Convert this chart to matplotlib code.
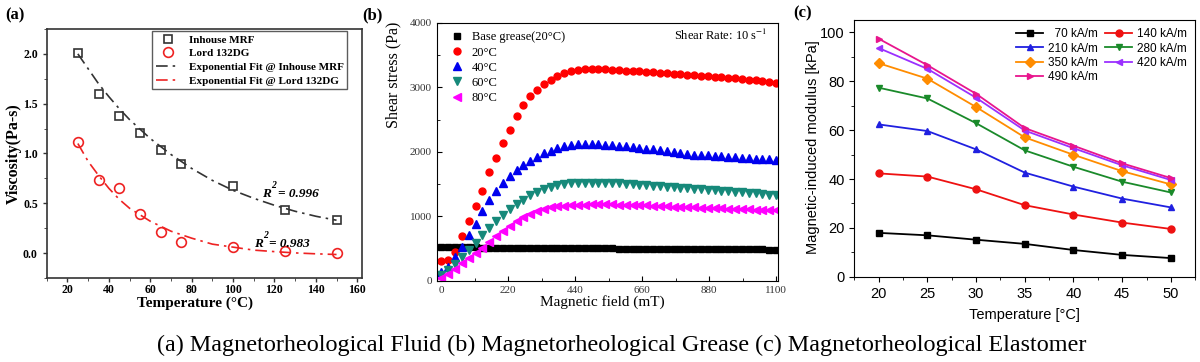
import numpy as np
import matplotlib
matplotlib.use("Agg")
import matplotlib.pyplot as plt
from matplotlib.ticker import MultipleLocator

plt.rcParams['font.family'] = ['Liberation Serif', 'DejaVu Sans']
plt.rcParams['mathtext.fontset'] = 'stix'

# (a) MR fluid viscosity
temp_a = [25, 35, 45, 55, 65, 75, 100, 125, 150]
visc_inhouse = [2.01, 1.60, 1.38, 1.21, 1.03, 0.89, 0.67, 0.43, 0.33]
visc_lord = [1.12, 0.73, 0.65, 0.39, 0.21, 0.11, 0.06, 0.02, 0.005]
temp_fit = [25, 30, 35, 40, 45, 50, 60, 70, 80, 90, 100, 110, 120, 130, 140, 150]
fit_inhouse = [2.00, 1.85, 1.70, 1.57, 1.45, 1.34, 1.15, 0.99, 0.85, 0.73, 0.63,
               0.55, 0.48, 0.42, 0.37, 0.33]
fit_lord = [1.10, 0.92, 0.78, 0.65, 0.54, 0.45, 0.32, 0.22, 0.15, 0.09, 0.06,
            0.03, 0.015, 0.002, -0.007, -0.014]

# (b) MR grease shear stress
field = np.linspace(0, 1100, 50)
base_grease = [522, 522, 521, 520, 519, 518, 517, 517, 516, 515, 514, 514, 513, 512,
               511, 511, 510, 509, 508, 508, 507, 506, 505, 505, 504, 503, 502, 502,
               501, 500, 499, 499, 498, 497, 496, 496, 495, 494, 493, 493, 492, 491,
               490, 490, 489, 488, 487, 487, 486, 485]
stress_20 = [310, 320, 450, 690, 928, 1155, 1400, 1686, 1907, 2134, 2345, 2562, 2720,
             2860, 2965, 3050, 3120, 3180, 3220, 3250, 3268, 3278, 3280, 3280, 3278,
             3272, 3265, 3258, 3252, 3246, 3240, 3234, 3228, 3220, 3212, 3205, 3198,
             3190, 3182, 3174, 3166, 3157, 3148, 3138, 3128, 3118, 3108, 3098, 3085, 3065]
stress_40 = [139, 216, 371, 526, 706, 887, 1082, 1247, 1387, 1515, 1619, 1722, 1799,
             1866, 1928, 1985, 2021, 2062, 2090, 2105, 2115, 2120, 2120, 2118, 2112,
             2105, 2096, 2086, 2075, 2063, 2050, 2037, 2024, 2010, 1996, 1983, 1968,
             1955, 1950, 1945, 1938, 1930, 1922, 1915, 1908, 1902, 1896, 1891, 1886, 1880]
stress_60 = [88, 165, 268, 371, 474, 588, 706, 820, 923, 1015, 1108, 1186, 1258, 1325,
             1376, 1418, 1454, 1480, 1500, 1510, 1516, 1520, 1522, 1522, 1520, 1516,
             1510, 1504, 1497, 1490, 1482, 1474, 1466, 1458, 1450, 1442, 1434, 1426,
             1418, 1410, 1402, 1395, 1388, 1380, 1372, 1364, 1355, 1346, 1336, 1325]
stress_80 = [45, 113, 191, 278, 356, 433, 515, 603, 691, 773, 851, 923, 990, 1041,
             1082, 1115, 1140, 1158, 1168, 1175, 1180, 1183, 1185, 1186, 1186, 1185,
             1183, 1180, 1177, 1173, 1169, 1165, 1160, 1156, 1152, 1148, 1144, 1140,
             1136, 1132, 1128, 1124, 1120, 1116, 1112, 1108, 1104, 1100, 1096, 1092]

# (c) MR elastomer modulus
temp_c = [20, 25, 30, 35, 40, 45, 50]
mod_70 = [18.0, 17.0, 15.2, 13.5, 11.0, 9.0, 7.7]
mod_140 = [42.3, 41.0, 35.8, 29.3, 25.5, 22.2, 19.6]
mod_210 = [62.3, 59.6, 52.1, 42.6, 36.9, 32.0, 28.4]
mod_280 = [77.3, 72.9, 62.8, 51.7, 45.0, 38.9, 34.5]
mod_350 = [87.3, 81.0, 69.4, 57.0, 49.9, 43.2, 37.8]
mod_420 = [93.5, 85.0, 73.2, 59.8, 52.6, 45.6, 39.6]
mod_490 = [97.3, 86.5, 74.8, 60.8, 53.6, 46.4, 40.4]

fig = plt.figure(figsize=(12, 3.62), dpi=100)

# ---------------- (a)
ax = fig.add_axes([0.039, 0.232, 0.263, 0.688])
dash = (0, (7, 3, 1.5, 3))
ax.plot(temp_a, visc_inhouse, ls='none', marker='s', ms=6, mfc='none', mec='#333333',
        mew=1.2, label='Inhouse MRF')
ax.plot(temp_a, visc_lord, ls='none', marker='o', ms=7, mfc='none', mec='#ee2222',
        mew=1.2, label='Lord 132DG')
ax.plot(temp_fit, fit_inhouse, color='#333333', ls=dash, lw=1.2,
        label='Exponential Fit @ Inhouse MRF')
ax.plot(temp_fit, fit_lord, color='#ee2222', ls=dash, lw=1.2,
        label='Exponential Fit @ Lord 132DG')
ax.set_xlim(10, 162.5)
ax.set_ylim(-0.25, 2.25)
ax.xaxis.set_major_locator(MultipleLocator(20))
ax.xaxis.set_minor_locator(MultipleLocator(10))
ax.yaxis.set_major_locator(MultipleLocator(0.5))
ax.yaxis.set_minor_locator(MultipleLocator(0.25))
ax.tick_params(labelsize=8.5, width=1, length=3, color='#333333')
ax.tick_params(which='minor', length=2, color='#333333')
ax.tick_params(axis='x', pad=1.5)
for lab in ax.get_xticklabels() + ax.get_yticklabels():
    lab.set_fontweight('bold')
for s in ax.spines.values():
    s.set_linewidth(1.2)
    s.set_color('#333333')
ax.set_xlabel('Temperature (°C)', fontsize=11, fontweight='bold')
ax.set_ylabel('Viscosity(Pa-s)', fontsize=11.5, fontweight='bold')
ax.xaxis.set_label_coords(0.47, -0.075)
ax.yaxis.set_label_coords(-0.08, 0.5)
r2_style = dict(fontweight='bold', fontstyle='italic')
ax.text(114, 0.56, 'R', fontsize=9.5, **r2_style)
ax.text(118.4, 0.65, '2', fontsize=7, **r2_style)
ax.text(121.5, 0.56, '= 0.996', fontsize=9.5, **r2_style)
ax.text(110, 0.06, 'R', fontsize=9.5, **r2_style)
ax.text(114.4, 0.15, '2', fontsize=7, **r2_style)
ax.text(117.5, 0.06, '= 0.983', fontsize=9.5, **r2_style)
leg = ax.legend(loc='upper right', bbox_to_anchor=(0.952, 0.99),
                prop={'weight': 'bold', 'size': 8}, fancybox=False,
                edgecolor='#333333', borderpad=0.3, labelspacing=0.35,
                handlelength=2.2, borderaxespad=0.0)
leg.get_frame().set_linewidth(1.0)

# ---------------- (b)
ax = fig.add_axes([0.364, 0.224, 0.284, 0.713])
ax.plot(field, base_grease, ls='none', marker='s', ms=4, color='black',
        label='Base grease(20°C)')
ax.plot(field, stress_20, ls='none', marker='o', ms=5, color='#ff0000', label='20°C')
ax.plot(field, stress_40, ls='none', marker='^', ms=5.5, color='#0000ee', label='40°C')
ax.plot(field, stress_60, ls='none', marker='v', ms=5.5, color='#16897a', label='60°C')
ax.plot(field, stress_80, ls='none', marker='<', ms=5.5, color='#ff00ff', label='80°C')
ax.set_xlim(-15, 1105)
ax.set_ylim(0, 4000)
ax.xaxis.set_major_locator(MultipleLocator(220))
ax.xaxis.set_minor_locator(MultipleLocator(110))
ax.yaxis.set_major_locator(MultipleLocator(1000))
ax.yaxis.set_minor_locator(MultipleLocator(500))
ax.tick_params(which='both', direction='in', labelsize=8, labelcolor='#333333')
ax.set_xlabel('Magnetic field (mT)', fontsize=11)
ax.set_ylabel('Shear stress (Pa)', fontsize=11.5)
ax.xaxis.set_label_coords(0.487, -0.055)
ax.yaxis.set_label_coords(-0.105, 0.80)
ax.text(0.97, 0.95, r'Shear Rate: 10 s$^{-1}$', transform=ax.transAxes, ha='right',
        va='center', fontsize=9)
ax.legend(loc='upper left', bbox_to_anchor=(0.0, 1.01), frameon=False, fontsize=9,
          handletextpad=0.4, labelspacing=0.25, handlelength=1.5)

# ---------------- (c)
ax = fig.add_axes([0.712, 0.235, 0.284, 0.710])
series_c = [(mod_70, '  70 kA/m', 'black', 's'),
            (mod_140, '140 kA/m', '#ee1111', 'o'),
            (mod_210, '210 kA/m', '#2020e0', '^'),
            (mod_280, '280 kA/m', '#1a8a2a', 'v'),
            (mod_350, '350 kA/m', '#ff8c00', 'D'),
            (mod_420, '420 kA/m', '#9b30ff', '<'),
            (mod_490, '490 kA/m', '#e8158d', '>')]
handles = []
for vals, lab, col, mk in series_c:
    h, = ax.plot(temp_c, vals, color=col, marker=mk, ms=5, lw=1.3, label=lab)
    handles.append(h)
ax.set_xlim(17.5, 52.5)
ax.set_ylim(0, 105)
ax.xaxis.set_major_locator(MultipleLocator(5))
ax.xaxis.set_minor_locator(MultipleLocator(2.5))
ax.yaxis.set_major_locator(MultipleLocator(20))
ax.yaxis.set_minor_locator(MultipleLocator(10))
ax.tick_params(labelsize=10.5)
for lab in ax.get_xticklabels() + ax.get_yticklabels():
    lab.set_fontfamily('Liberation Sans')
ax.set_xlabel('Temperature [°C]', fontsize=10.5, family='Liberation Sans')
ax.set_ylabel('Magnetic-induced modulus [kPa]', fontsize=10.5, family='Liberation Sans')
ax.xaxis.set_label_coords(0.5, -0.12)
ax.yaxis.set_label_coords(-0.10, 0.504)
# row-wise legend order: 70/140, 210/280, 350/420, 490
order = [0, 2, 4, 6, 1, 3, 5]
ax.legend([handles[i] for i in order], [series_c[i][1] for i in order],
          loc='upper right', ncol=2, frameon=False,
          prop={'family': 'Liberation Sans', 'size': 8.5}, handlelength=2.3,
          columnspacing=0.6, labelspacing=0.2, handletextpad=0.4, borderaxespad=0.3)

# panel letters and caption
fig.text(5 / 1200, 1 - 15 / 362, '(a)', fontsize=12, fontweight='bold', va='center')
fig.text(362 / 1200, 1 - 15 / 362, '(b)', fontsize=12, fontweight='bold', va='center')
fig.text(793 / 1200, 1 - 13 / 362, '(c)', fontsize=12, fontweight='bold', va='center')
fig.text(0.518, 0.046, '(a) Magnetorheological Fluid (b) Magnetorheological Grease '
         '(c) Magnetorheological Elastomer', ha='center', va='center', fontsize=17.4)

fig.savefig('out.png', dpi=100)
